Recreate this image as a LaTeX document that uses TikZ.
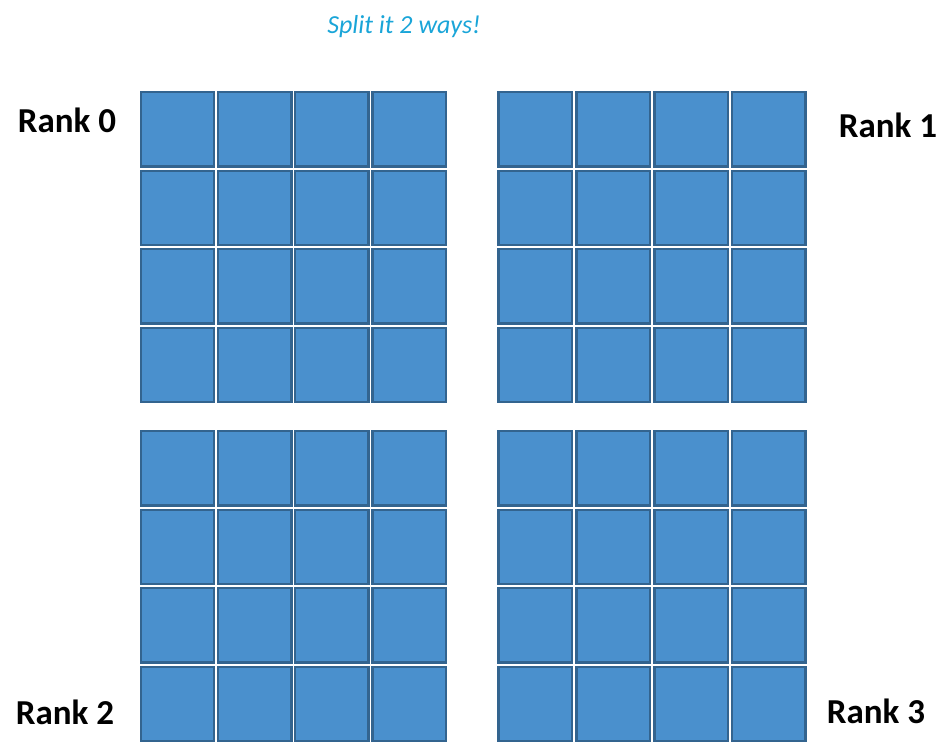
\documentclass[tikz,border=0pt]{standalone}
\usepackage{fontspec}
\setmainfont{Carlito}
\usepackage{xcolor}
\usetikzlibrary{positioning}
\definecolor{cellfill}{HTML}{4A90CD}
\definecolor{celledge}{HTML}{33648F}
\definecolor{splitcyan}{HTML}{1AA5D8}

\begin{document}
\begin{tikzpicture}[
    x=1pt, y=-1pt,
    cell/.style={draw=celledge, fill=cellfill, line width=2.4pt, minimum width=73.4pt, minimum height=74.2pt, inner sep=0pt},
    rank/.style={font=\fontsize{35}{40}\selectfont\bfseries, inner sep=0pt},
    note/.style={font=\fontsize{26}{30}\selectfont\itshape, text=splitcyan, inner sep=0pt}
]
    \useasboundingbox (0,0) rectangle (941,752);

    % four blocks of 4x4 cells
    \foreach \b/\bx/\by/\dx in {0/139.5/91/77.2, 1/497.3/91/77.9, 2/139.5/430/77.2, 3/497.3/430/77.9} {
        \foreach \r in {0,...,3} {
            \foreach \c in {0,...,3} {
                \node[cell] (c\b-\r-\c) at (\bx+\dx*\c+37.9, \by+78.5*\r+38.3) {};
            }
        }
    }

    \node[note] (split) at (404,27) {Split it 2 ways!};

    \node[rank] (rank0) at (67,120) {Rank 0};
    \node[rank] (rank1) at (888,125) {Rank 1};
    \node[rank] (rank2) at (65,712) {Rank 2};
    \node[rank] (rank3) at (876,711) {Rank 3};

\end{tikzpicture}
\end{document}
